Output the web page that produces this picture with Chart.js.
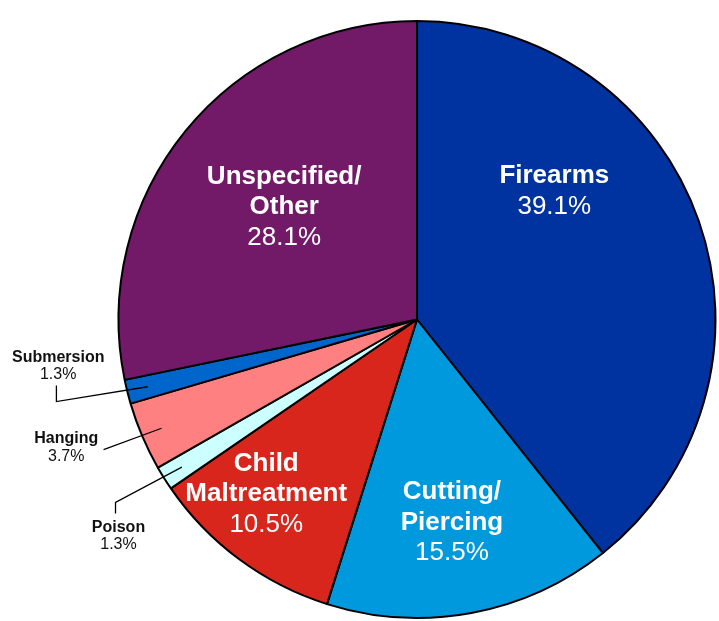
<!DOCTYPE html>
<html>
<head>
<meta charset="utf-8">
<script src="https://cdn.jsdelivr.net/npm/chart.js@4.4.1/dist/chart.umd.min.js"></script>
<style>
	html, body { margin:0; padding:0; background:#fff; }
	#wrap { position:relative; width:719px; height:621px; }
</style>
</head>
<body>
<div id="wrap"><canvas id="pie" width="719" height="621"></canvas></div>
<script>
// slices, clockwise from 12 o'clock
var categories = ["Firearms", "Cutting/Piercing", "Child Maltreatment", "Poison", "Hanging", "Submersion", "Unspecified/Other"];
var shares     = [39.1, 15.5, 10.5, 1.3, 3.7, 1.3, 28.1];
var labelLines = [["Firearms"], ["Cutting/", "Piercing"], ["Child", "Maltreatment"], ["Poison"], ["Hanging"], ["Submersion"], ["Unspecified/", "Other"]];
var colors     = ["#0033a0", "#0099dd", "#d8261d", "#ccffff", "#ff8080", "#0066cc", "#721a68"];

// text placement, in units of the radius from the centre
var bigLabels = {
	0 : { x:  0.46,  y: -0.43 },
	1 : { x:  0.117, y:  0.680 },
	2 : { x: -0.505, y:  0.585 },
	6 : { x: -0.445, y: -0.376 }
};
// small slices get a leader line : elbow, end, then text block centre
var sideLabels = {
	3 : { elbow: [-1.010, 0.613], end: [-1.010, 0.650], text: [-1.000, 0.724] },
	4 : { elbow: null,            end: [-1.050, 0.436], text: [-1.175, 0.429] },
	5 : { elbow: [-1.208, 0.275], end: [-1.208, 0.221], text: [-1.202, 0.155] }
};

var labelPlugin = {
	id : "sliceLabels",
	afterDatasetsDraw : function(chart){
		var ctx = chart.ctx,
			meta = chart.getDatasetMeta(0),
			first = meta.data[0],
			cx = first.x, cy = first.y, R = first.outerRadius;

		ctx.save();
		ctx.textAlign = "center";
		ctx.textBaseline = "middle";

		// big white labels inside the slices
		Object.keys(bigLabels).forEach(function(k){
			var p = bigLabels[k],
				lines = labelLines[k].concat([shares[k].toFixed(1) + "%"]),
				lh = 30.5,
				x = cx + p.x*R,
				y0 = cy + p.y*R - (lines.length-1)*lh/2;
			ctx.fillStyle = "#fff";
			lines.forEach(function(t, i){
				var last = (i === lines.length-1);
				ctx.font = (last ? "" : "bold ") + "26px 'Liberation Sans', Arial, sans-serif";
				ctx.fillText(t, x, y0 + i*lh);
			});
		});

		// small outside labels with leader lines
		Object.keys(sideLabels).forEach(function(k){
			var s = sideLabels[k],
				arc = meta.data[k],
				mid = (arc.startAngle + arc.endAngle)/2,
				r0 = 0.93*R,
				pts = [[cx + Math.cos(mid)*r0, cy + Math.sin(mid)*r0]];
			if (s.elbow) pts.push([cx + s.elbow[0]*R, cy + s.elbow[1]*R]);
			pts.push([cx + s.end[0]*R, cy + s.end[1]*R]);

			ctx.beginPath();
			ctx.moveTo(pts[0][0], pts[0][1]);
			for (var i=1; i<pts.length; i++) ctx.lineTo(pts[i][0], pts[i][1]);
			ctx.strokeStyle = "#000";
			ctx.lineWidth = 1.3;
			ctx.stroke();

			var tx = cx + s.text[0]*R, ty = cy + s.text[1]*R;
			ctx.fillStyle = "#111";
			ctx.font = "bold 16px 'Liberation Sans', Arial, sans-serif";
			ctx.fillText(labelLines[k][0], tx, ty - 8.5);
			ctx.font = "16px 'Liberation Sans', Arial, sans-serif";
			ctx.fillText(shares[k].toFixed(1) + "%", tx, ty + 9);
		});
		ctx.restore();
	}
};

new Chart(document.getElementById("pie"), {
	type : "pie",
	data : {
		labels : categories,
		datasets : [{
			data : shares,
			backgroundColor : colors,
			borderColor : "#000",
			borderWidth : 2
		}]
	},
	options : {
		responsive : false,
		animation : false,
		layout : { padding : { top: 20, bottom: 2, left: 115, right: 0 } },
		plugins : {
			legend : { display : false },
			tooltip : { enabled : false }
		}
	},
	plugins : [labelPlugin]
});
</script>
</body>
</html>
